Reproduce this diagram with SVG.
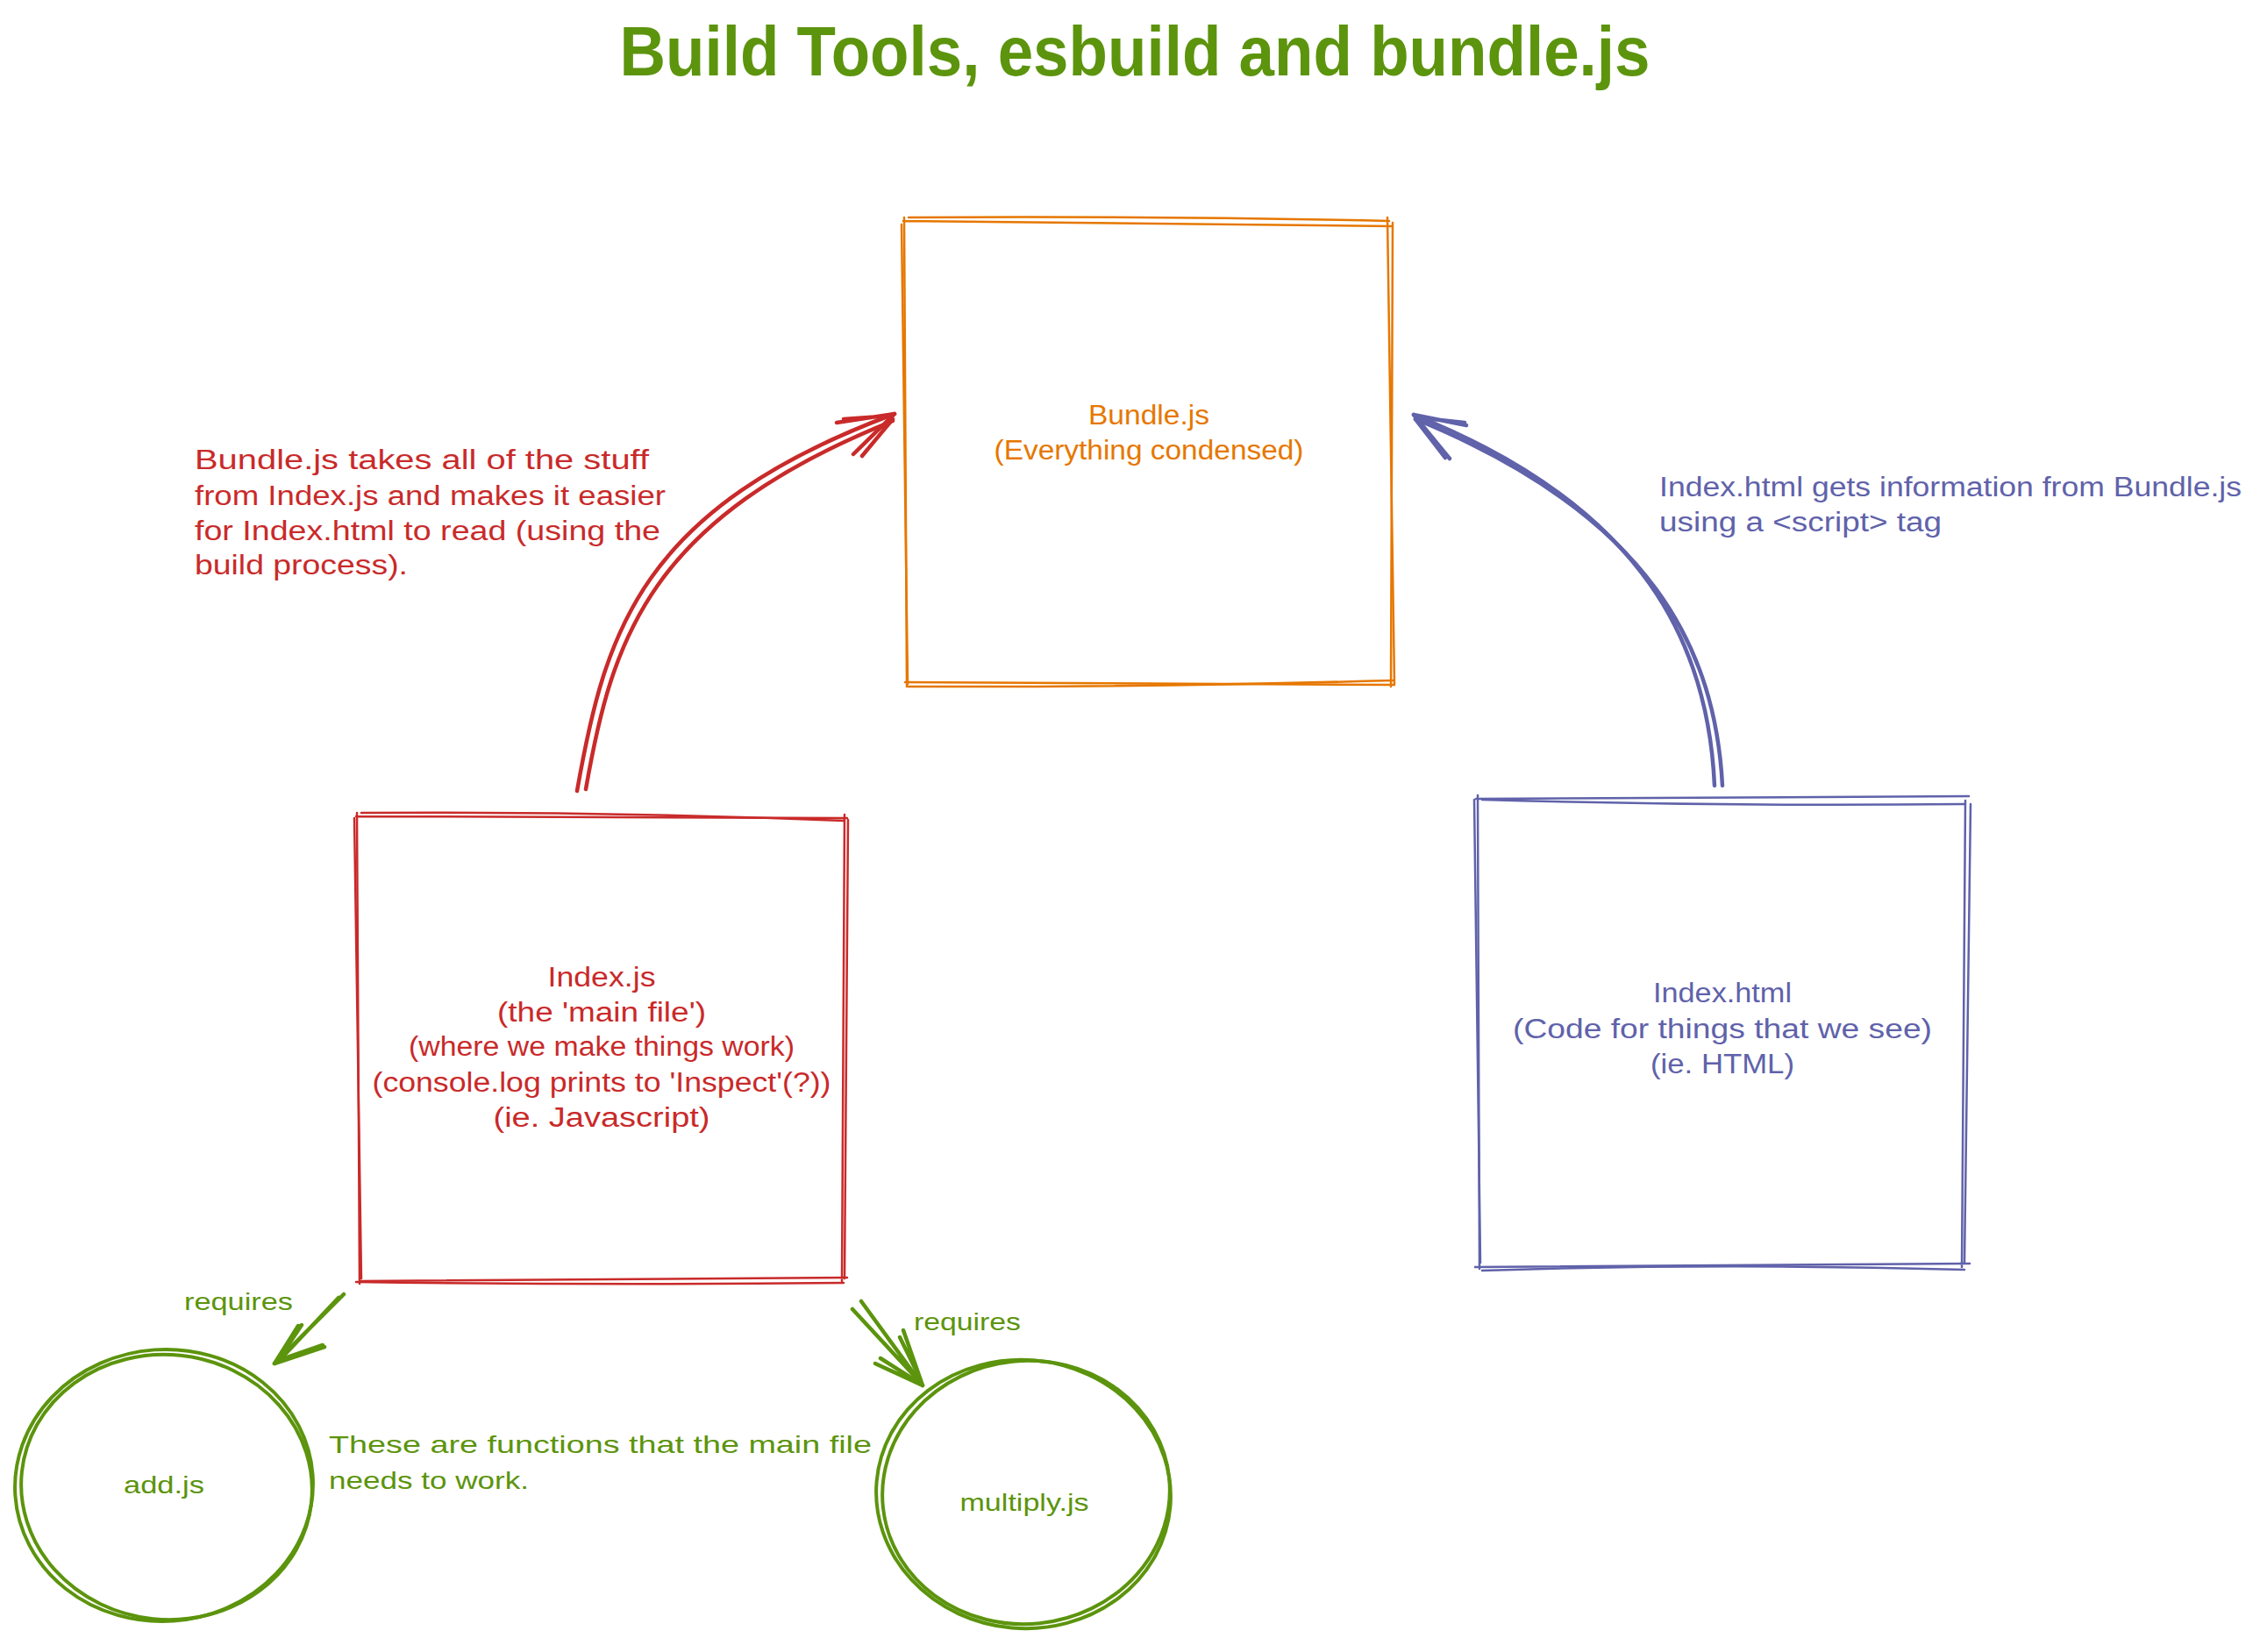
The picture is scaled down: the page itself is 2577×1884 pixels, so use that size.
<svg xmlns="http://www.w3.org/2000/svg" width="2577" height="1884" viewBox="0 0 2577 1884">
<style>
.s{fill:none;stroke-linecap:round;stroke-linejoin:round}
.or{stroke:#e67700;stroke-width:2.5}
.rd{stroke:#c92a2a;stroke-width:2.5}
.bl{stroke:#6062aa;stroke-width:2.5}
.gr{stroke:#5c940d;stroke-width:4}
.ra{stroke:#c92a2a;stroke-width:4.5}
.ba{stroke:#6062aa;stroke-width:4.5}
.ga{stroke:#5c940d;stroke-width:4.5}
text{font-family:"Liberation Sans",Arial,sans-serif}
.t{font-size:31px;text-anchor:middle}
.n{font-size:31px}
.g{font-size:28px;fill:#5c940d}
</style>
<rect width="2577" height="1884" fill="#ffffff"/>
<g id="title">
<text x="1294" y="86" font-size="80" font-weight="bold" fill="#5c940d" text-anchor="middle" textLength="1175" lengthAdjust="spacingAndGlyphs">Build Tools, esbuild and bundle.js</text>
</g>
<g id="bundle">
<path class="s or" d="M1030,252 L1588,258 M1588,254 L1586,783 M1590,781 L1032,778 M1034,783 L1031,248"/>
<path class="s or" d="M1036,248 Q1300,246 1584,252 M1582,248 L1590,780 M1588,776 Q1300,784 1036,783 M1028,256 L1035,780"/>
<text class="t" fill="#e67700" x="1310" y="484" textLength="138" lengthAdjust="spacingAndGlyphs">Bundle.js</text>
<text class="t" fill="#e67700" x="1310" y="524" textLength="353" lengthAdjust="spacingAndGlyphs">(Everything condensed)</text>
</g>
<g id="indexjs">
<path class="s rd" d="M406,931 L966,933 M963,929 L960,1461 M966,1457 L410,1461 M410,1464 L407,927"/>
<path class="s rd" d="M412,927 Q690,925 962,936 M967,935 L963,1458 M962,1463 Q690,1466 406,1462 M404,933 L412,1458"/>
<text class="t" fill="#c92a2a" x="686" y="1125" textLength="123" lengthAdjust="spacingAndGlyphs">Index.js</text>
<text class="t" fill="#c92a2a" x="686" y="1165" textLength="238" lengthAdjust="spacingAndGlyphs">(the 'main file')</text>
<text class="t" fill="#c92a2a" x="686" y="1204" textLength="440" lengthAdjust="spacingAndGlyphs">(where we make things work)</text>
<text class="t" fill="#c92a2a" x="686" y="1245" textLength="523" lengthAdjust="spacingAndGlyphs">(console.log prints to 'Inspect'(?))</text>
<text class="t" fill="#c92a2a" x="686" y="1285" textLength="247" lengthAdjust="spacingAndGlyphs">(ie. Javascript)</text>
</g>
<g id="indexhtml">
<path class="s bl" d="M1683,911 L2245,908 M2241,913 L2237,1445 M2246,1441 L1682,1445 M1687,1447 L1685,907"/>
<path class="s bl" d="M1690,912 Q1960,920 2240,917 M2247,917 L2240,1440 M2240,1448 Q1960,1440 1690,1449 M1681,912 L1688,1440"/>
<text class="t" fill="#6062aa" x="1964" y="1143" textLength="158" lengthAdjust="spacingAndGlyphs">Index.html</text>
<text class="t" fill="#6062aa" x="1964" y="1184" textLength="478" lengthAdjust="spacingAndGlyphs">(Code for things that we see)</text>
<text class="t" fill="#6062aa" x="1964" y="1224" textLength="164" lengthAdjust="spacingAndGlyphs">(ie. HTML)</text>
</g>
<g id="addjs">
<ellipse class="s gr" cx="187" cy="1694" rx="170" ry="155" transform="rotate(-4 187 1694)"/>
<ellipse class="s gr" cx="190" cy="1696" rx="166" ry="151" transform="rotate(6 190 1696)"/>
<text class="g" x="187" y="1703" text-anchor="middle" textLength="92" lengthAdjust="spacingAndGlyphs">add.js</text>
</g>
<g id="multiplyjs">
<ellipse class="s gr" cx="1167" cy="1704" rx="168" ry="153" transform="rotate(5 1167 1704)"/>
<ellipse class="s gr" cx="1170" cy="1702" rx="164" ry="150" transform="rotate(-6 1170 1702)"/>
<text class="g" x="1168" y="1723" text-anchor="middle" textLength="147" lengthAdjust="spacingAndGlyphs">multiply.js</text>
</g>
<g id="notes">
<text class="n" fill="#c92a2a" x="222" y="535" textLength="518" lengthAdjust="spacingAndGlyphs">Bundle.js takes all of the stuff</text>
<text class="n" fill="#c92a2a" x="222" y="576" textLength="537" lengthAdjust="spacingAndGlyphs">from Index.js and makes it easier</text>
<text class="n" fill="#c92a2a" x="222" y="616" textLength="531" lengthAdjust="spacingAndGlyphs">for Index.html to read (using the</text>
<text class="n" fill="#c92a2a" x="222" y="655" textLength="243" lengthAdjust="spacingAndGlyphs">build process).</text>
<text class="n" fill="#6062aa" x="1892" y="566" textLength="664" lengthAdjust="spacingAndGlyphs">Index.html gets information from Bundle.js</text>
<text class="n" fill="#6062aa" x="1892" y="606" textLength="322" lengthAdjust="spacingAndGlyphs">using a &lt;script&gt; tag</text>
<text class="g" x="375" y="1657" textLength="619" lengthAdjust="spacingAndGlyphs">These are functions that the main file</text>
<text class="g" x="375" y="1698" textLength="228" lengthAdjust="spacingAndGlyphs">needs to work.</text>
</g>
<g id="connectors">
<path class="s ra" d="M658,902 C690,720 730,580 1020,472"/>
<path class="s ra" d="M668,900 C698,728 740,592 1018,480"/>
<path class="s ra" d="M1020,472 L954,482 M1018,474 L962,478 M1020,472 L973,518 M1018,478 L983,520"/>
<path class="s ba" d="M1955,896 C1948,740 1880,580 1612,473"/>
<path class="s ba" d="M1964,896 C1956,745 1888,590 1614,478"/>
<path class="s ba" d="M1612,473 L1672,485 M1614,476 L1670,482 M1612,473 L1653,523 M1614,478 L1648,522"/>
<path class="s ga" d="M392,1476 L313,1555 M386,1480 L318,1552"/>
<path class="s ga" d="M313,1555 L370,1536 M316,1552 L368,1534 M313,1555 L340,1512 M318,1550 L344,1511"/>
<path class="s ga" d="M982,1484 L1052,1580 M972,1493 L1048,1575"/>
<path class="s ga" d="M1052,1580 L998,1555 M1048,1577 L1004,1549 M1052,1580 L1030,1517 M1050,1574 L1026,1525"/>
<text class="g" x="210" y="1494" textLength="124" lengthAdjust="spacingAndGlyphs">requires</text>
<text class="g" x="1042" y="1517" textLength="122" lengthAdjust="spacingAndGlyphs">requires</text>
</g>
</svg>
